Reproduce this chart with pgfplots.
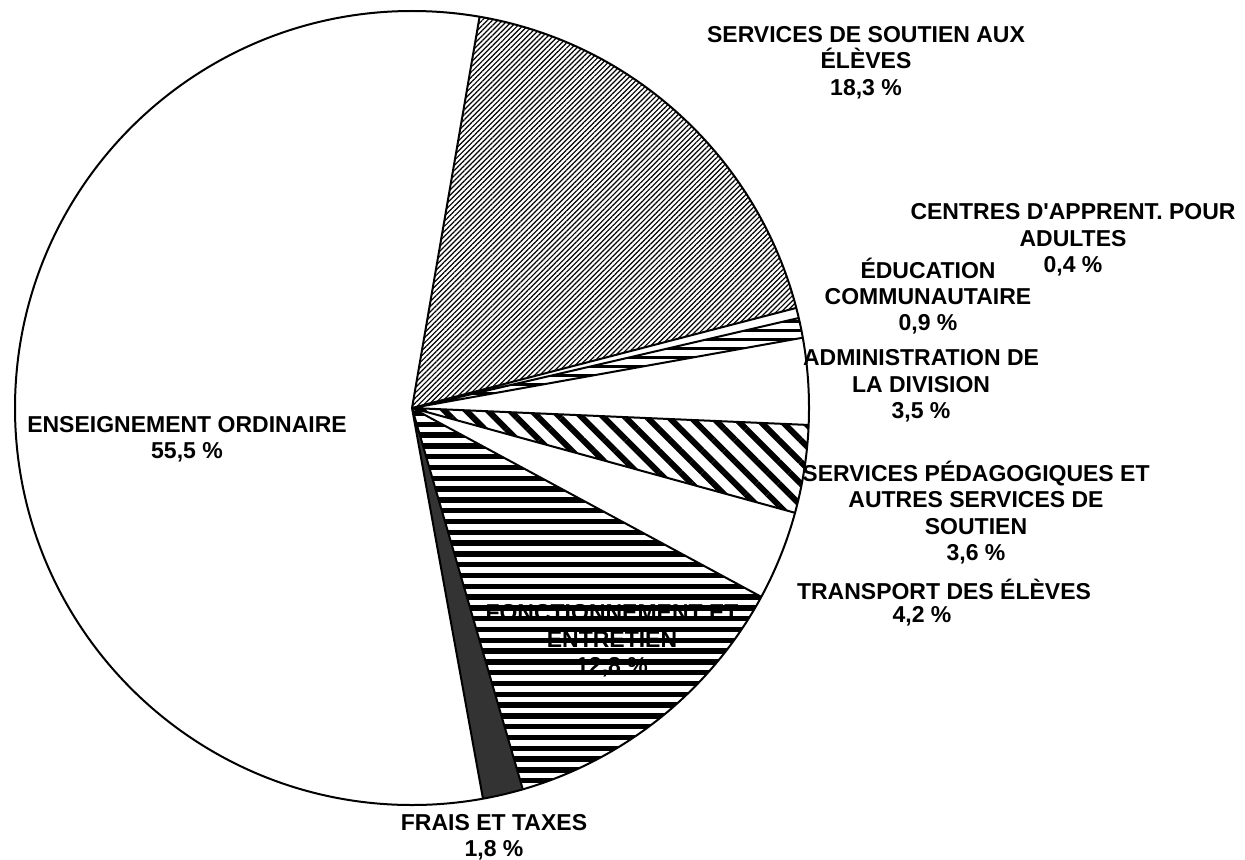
\documentclass[border=0pt]{standalone}
\usepackage{fontspec}
\setmainfont{Liberation Sans}
\usepackage{pgfplots}
\pgfplotsset{compat=1.18}
\usetikzlibrary{patterns.meta}

\def\R{198.5pt}
\tikzset{
  slice/.style={draw=black, line width=1pt, line join=round},
  pSSE/.style={pattern={Lines[angle=45, distance=1.8pt, line width=0.6pt]}},
  pSP/.style={pattern={Lines[angle=-45, distance=7.7pt, line width=3pt]}},
  lab/.style={align=center, font=\bfseries\fontsize{11.5}{13.2}\selectfont, inner sep=0pt},
}

\begin{document}
\begin{tikzpicture}
\useasboundingbox (0,0) rectangle (622.5pt,429.5pt);
\begin{axis}[
    at={(0,0)}, anchor=south west,
    x=0.5pt, y=0.5pt,
    xmin=0, xmax=1245, ymin=0, ymax=859,
    hide axis, clip=false,
]
  % slice boundaries in degrees (clockwise from 80.2)
  % SSE 80.2..14.6 | CAA ..13.1 | EC ..10.2 | ADM ..-2.45 | SP ..-15.3
  % TR ..-28.4 | FE ..-73.8 | FT ..-79.7 | EO ..-279.8
  \fill[pSSE] (axis cs:412,451) -- ++(80.2:\R)  arc[start angle=80.2,  end angle=14.6,  radius=\R] -- cycle;
  \fill[pSP]  (axis cs:412,451) -- ++(-2.45:\R) arc[start angle=-2.45, end angle=-15.3, radius=\R] -- cycle;
  \fill[black!80] (axis cs:412,451) -- ++(-73.8:\R) arc[start angle=-73.8, end angle=-79.7, radius=\R] -- cycle;

  % horizontal bands of FONCTIONNEMENT ET ENTRETIEN
  \begin{scope}
    \clip (axis cs:412,451) -- ++(-28.4:\R) arc[start angle=-28.4, end angle=-73.8, radius=\R] -- cycle;
    \pgfplotsinvokeforeach{0,...,38}{
      \fill (axis cs:400,{448.3-#1*10.8}) rectangle (axis cs:820,{442.9-#1*10.8});
    }
  \end{scope}
  % horizontal bands of EDUCATION COMMUNAUTAIRE
  \begin{scope}
    \clip (axis cs:412,451) -- ++(13.1:\R) arc[start angle=13.1, end angle=10.2, radius=\R] -- cycle;
    \pgfplotsinvokeforeach{0,...,12}{
      \fill (axis cs:400,{455+#1*9}) rectangle (axis cs:820,{457.7+#1*9});
    }
  \end{scope}

  % outlines
  \draw[slice] (axis cs:412,451) circle[radius=\R];
  \draw[slice] (axis cs:412,451) -- ++(80.2:\R)  (axis cs:412,451) -- ++(14.6:\R)
               (axis cs:412,451) -- ++(13.1:\R)  (axis cs:412,451) -- ++(10.2:\R)
               (axis cs:412,451) -- ++(-2.45:\R) (axis cs:412,451) -- ++(-15.3:\R)
               (axis cs:412,451) -- ++(-28.4:\R) (axis cs:412,451) -- ++(-73.8:\R)
               (axis cs:412,451) -- ++(-79.7:\R);

  % labels
  \node[lab] at (axis cs:866,796.5) {SERVICES DE SOUTIEN AUX\\ÉLÈVES\\18,3 \%};
  \node[lab] at (axis cs:1073,619) {CENTRES D\textquotesingle APPRENT. POUR\\ADULTES\\0,4 \%};
  \node[lab] at (axis cs:928,563) {ÉDUCATION\\COMMUNAUTAIRE\\0,9 \%};
  \node[lab] at (axis cs:921,473) {ADMINISTRATION DE\\LA DIVISION\\3,5 \%};
  \node[lab] at (axis cs:976,346.5) {SERVICES PÉDAGOGIQUES ET\\AUTRES SERVICES DE\\SOUTIEN\\3,6 \%};
  \node[lab] at (axis cs:944,270) {TRANSPORT DES ÉLÈVES};
  \node[lab] at (axis cs:922,243) {4,2 \%};
  \node[lab] at (axis cs:612,218) {FONCTIONNEMENT ET\\ENTRETIEN\\12,8 \%};
  \node[lab] at (axis cs:494,22) {FRAIS ET TAXES\\1,8 \%};
  \node[lab] at (axis cs:187,420) {ENSEIGNEMENT ORDINAIRE\\55,5 \%};
\end{axis}
\end{tikzpicture}
\end{document}
